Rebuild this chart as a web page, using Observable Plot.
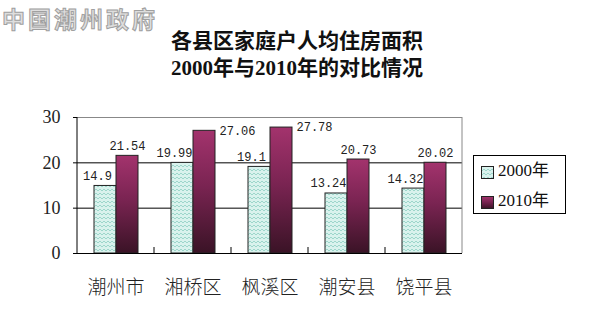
<!DOCTYPE html>
<html><head><meta charset="utf-8">
<script src="https://cdn.jsdelivr.net/npm/d3@7"></script>
<script src="https://cdn.jsdelivr.net/npm/@observablehq/plot@0.6"></script>
<style>body{margin:0;background:#fff}#chart svg{display:block}</style>
</head><body><div id="chart"></div>
<script>
const categories = ["潮州市", "湘桥区", "枫溪区", "潮安县", "饶平县"];
const years = ["2000年", "2010年"];
const values2000 = [14.9, 19.99, 19.1, 13.24, 14.32];
const values2010 = [21.54, 27.06, 27.78, 20.73, 20.02];
const yTicks = [0, 10, 20, 30];
const titleLines = ["各县区家庭户人均住房面积", "2000年与2010年的对比情况"];
const watermark = "中国潮州政府";

const rows = categories.flatMap((c, i) => [
  {cat: c, year: years[0], value: values2000[i]},
  {cat: c, year: years[1], value: values2010[i]}
]);
const r2000 = rows.filter(d => d.year === years[0]);
const r2010 = rows.filter(d => d.year === years[1]);
const r2010low = r2010.filter(d => d.value < 25);
const r2010high = r2010.filter(d => d.value >= 25);

const serif = "'Liberation Serif','Noto Sans CJK SC',serif";
const mono = "'Liberation Mono','DejaVu Sans Mono',monospace";
const cjk = "'Noto Sans CJK SC',sans-serif";
const fmt = d => String(d.value);

const plot = Plot.plot({
  width: 592, height: 321,
  marginLeft: 77, marginRight: 130, marginTop: 117, marginBottom: 68,
  fx: {domain: categories, padding: 0, label: null},
  x: {domain: years, paddingInner: 0, paddingOuter: 0.75, axis: null},
  y: {domain: [0, 30], label: null},
  style: {background: "#fff", color: "#222"},
  marks: [
    Plot.ruleY([10, 20], {stroke: "#000", strokeWidth: 1}),
    Plot.ruleY([30], {stroke: "#888", strokeWidth: 1}),
    Plot.barY(r2000, {fx: "cat", x: "year", y: "value", fill: "url(#hatch2000)", stroke: "#222", strokeWidth: 1}),
    Plot.barY(r2010, {fx: "cat", x: "year", y: "value", fill: "url(#grad2010)", stroke: "#222", strokeWidth: 1}),
    Plot.ruleY([0], {stroke: "#000", strokeWidth: 1}),
    Plot.text(r2000, {fx: "cat", x: "year", y: "value", text: fmt, lineAnchor: "bottom", dy: -6, dx: -8, fontSize: 12, fontFamily: mono, fill: "#222"}),
    Plot.text(r2010low, {fx: "cat", x: "year", y: "value", text: fmt, lineAnchor: "bottom", dy: -6, fontSize: 12, fontFamily: mono, fill: "#222"}),
    Plot.text(r2010high, {fx: "cat", x: "year", y: "value", text: fmt, textAnchor: "start", lineAnchor: "middle", dx: 15, fontSize: 12, fontFamily: mono, fill: "#222"}),
    Plot.axisY({ticks: yTicks, tickSize: 4, tickPadding: 13, fontSize: 18, fontFamily: serif, label: null, stroke: "#000"}),
    Plot.axisFx({anchor: "bottom", tickSize: 0, tickPadding: 27, fontSize: 19, fontFamily: cjk, fontWeight: 300, fill: "#222", label: null})
  ]
});

const svg = d3.select(plot);
const defs = svg.insert("defs", ":first-child");
const pat = defs.append("pattern").attr("id", "hatch2000").attr("patternUnits", "userSpaceOnUse").attr("width", 4).attr("height", 4);
pat.append("rect").attr("width", 4).attr("height", 4).attr("fill", "#d9f2ed");
pat.append("path").attr("d", "M0,1 L2,3 L4,1").attr("fill", "none").attr("stroke", "#9dd6cb").attr("stroke-width", 1);
const grad = defs.append("linearGradient").attr("id", "grad2010").attr("x1", 0).attr("y1", 0).attr("x2", 0).attr("y2", 1);
grad.append("stop").attr("offset", "0%").attr("stop-color", "#a3336d");
grad.append("stop").attr("offset", "45%").attr("stop-color", "#7a2452");
grad.append("stop").attr("offset", "100%").attr("stop-color", "#3a1326");

const ys = plot.scale("y"), fxs = plot.scale("fx");
const yTop = ys.apply(30), yBot = ys.apply(0);
const xL = fxs.apply(categories[0]);
const xR = fxs.apply(categories[categories.length - 1]) + fxs.bandwidth;
svg.append("line").attr("x1", xR).attr("x2", xR).attr("y1", yTop).attr("y2", yBot).attr("stroke", "#888");
svg.append("line").attr("x1", xL).attr("x2", xL).attr("y1", yTop).attr("y2", yBot).attr("stroke", "#000");
categories.slice(1).forEach(c => {
  const x = fxs.apply(c);
  svg.append("line").attr("x1", x).attr("x2", x).attr("y1", yBot).attr("y2", yBot - 6).attr("stroke", "#000");
});

// title
titleLines.forEach((t, i) => {
  svg.append("text").attr("x", 297).attr("y", 48 + i * 27).attr("text-anchor", "middle")
    .attr("font-family", serif).attr("font-weight", "bold").attr("font-size", 21).attr("fill", "#111").text(t);
});

// watermark
svg.append("text").attr("x", 2).attr("y", 28).attr("text-anchor", "start").attr("font-family", cjk).attr("font-weight", "bold")
  .attr("font-size", 23).attr("letter-spacing", 3).attr("fill", "#dedede").attr("stroke", "#a0a0a0").attr("stroke-width", 1)
  .text(watermark);

// legend
const lg = svg.append("g");
lg.append("rect").attr("x", 473.5).attr("y", 155.5).attr("width", 92).attr("height", 58).attr("fill", "#fff").attr("stroke", "#000");
[["url(#hatch2000)", years[0]], ["url(#grad2010)", years[1]]].forEach(([f, t], i) => {
  lg.append("rect").attr("x", 481.5).attr("y", 166.5 + i * 30).attr("width", 12).attr("height", 12).attr("fill", f).attr("stroke", "#222");
  lg.append("text").attr("x", 498).attr("y", 172.5 + i * 30).attr("text-anchor", "start").attr("dominant-baseline", "middle")
    .attr("font-family", serif).attr("font-size", 17).attr("fill", "#111").text(t);
});

document.getElementById("chart").appendChild(plot);
</script>
</body></html>
